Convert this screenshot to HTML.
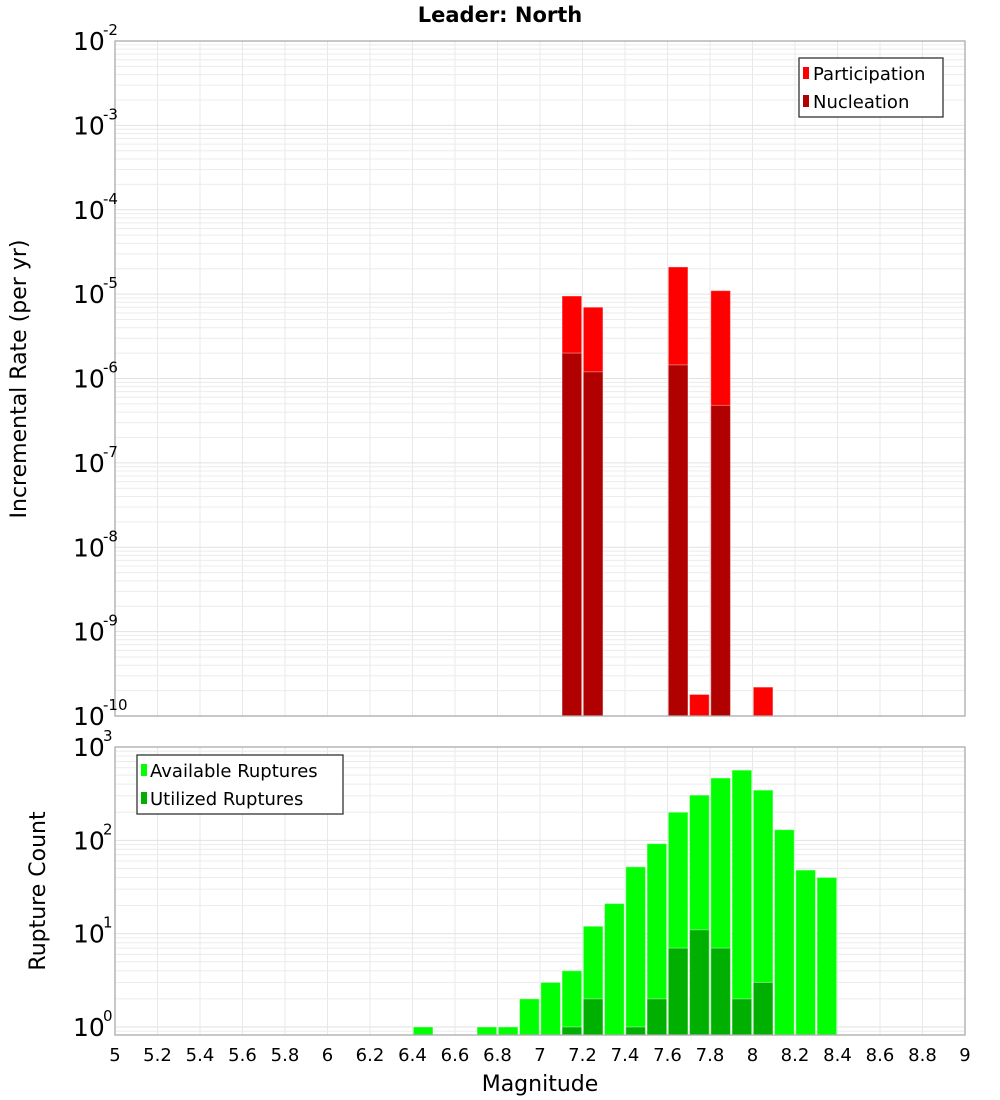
<!DOCTYPE html>
<html><head><meta charset="utf-8">
<style>
body{margin:0;background:#fff;}
svg{display:block;font-family:"DejaVu Sans","Liberation Sans",sans-serif;}
</style></head>
<body>
<svg id="c" width="1000" height="1100" viewBox="0 0 1000 1100" xmlns="http://www.w3.org/2000/svg">
<text x="500" y="22" text-anchor="middle" font-size="21" font-weight="bold">Leader: North</text>
<g id="top"></g>
<g id="bot"></g>
<text transform="translate(26,379) rotate(-90)" text-anchor="middle" font-size="22">Incremental Rate (per yr)</text>
<text transform="translate(45,891) rotate(-90)" text-anchor="middle" font-size="22">Rupture Count</text>
<text x="540" y="1091" text-anchor="middle" font-size="22">Magnitude</text>
<g>
<rect x="799" y="58" width="144" height="59" fill="#fff" stroke="#333" stroke-width="1.3"/>
<rect x="803" y="67" width="6" height="12" fill="#ff0000"/>
<text x="813" y="80" font-size="18">Participation</text>
<rect x="803" y="95" width="6" height="12" fill="#b00000"/>
<text x="813" y="108" font-size="18">Nucleation</text>
</g>
<g>
<rect x="137" y="755" width="206" height="59" fill="#fff" stroke="#333" stroke-width="1.3"/>
<rect x="141" y="764" width="6" height="12" fill="#00ff00"/>
<text x="150" y="777" font-size="18">Available Ruptures</text>
<rect x="141" y="792" width="6" height="12" fill="#00b000"/>
<text x="150" y="805" font-size="18">Utilized Ruptures</text>
</g>
</svg>
<script>
// Data
const rateMags = [7.15, 7.25, 7.65, 7.75, 7.85, 8.05];
const participation = [9.5e-6, 7e-6, 2.1e-5, 1.8e-10, 1.1e-5, 2.2e-10];
const nucleation = [2e-6, 1.2e-6, 1.45e-6, 0, 4.8e-7, 0];
const countMags = [6.45, 6.75, 6.85, 6.95, 7.05, 7.15, 7.25, 7.35, 7.45, 7.55, 7.65, 7.75, 7.85, 7.95, 8.05, 8.15, 8.25, 8.35];
const available = [1, 1, 1, 2, 3, 4, 12, 21, 52, 92, 200, 305, 465, 565, 345, 130, 48, 40];
const utilized = [0, 0, 0, 0, 0, 1, 2, 0, 1, 2, 7, 11, 7, 2, 3, 0, 0, 0];
const xTicks = ["5","5.2","5.4","5.6","5.8","6","6.2","6.4","6.6","6.8","7","7.2","7.4","7.6","7.8","8","8.2","8.4","8.6","8.8","9"];
const rateExps = [-2,-3,-4,-5,-6,-7,-8,-9,-10];
const countExps = [3,2,1,0];

const NS = "http://www.w3.org/2000/svg";
const X0 = 115, X1 = 965;
const x = m => X0 + (m - 5) / 4 * (X1 - X0);
const binW = (X1 - X0) / 40;
const T = {top:41, bot:716, lmax:-2, lmin:-10};
const B = {top:747, bot:1035, lmax:3.0, lmin:-0.086};
const yT = v => T.top + (T.lmax - Math.log10(v)) / (T.lmax - T.lmin) * (T.bot - T.top);
const yB = v => B.top + (B.lmax - Math.log10(v)) / (B.lmax - B.lmin) * (B.bot - B.top);
function el(tag, attrs, parent){const e=document.createElementNS(NS,tag);for(const k in attrs)e.setAttribute(k,attrs[k]);parent.appendChild(e);return e;}

function grid(g, P, yf, emin, emax){
  for(let i=0;i<=20;i++){const xx=x(5+i*0.2);
    const l=el('line',{x1:xx,x2:xx,y1:P.top,y2:P.bot,stroke:'#e8e8e8','stroke-width':1},g);
    
    }
  for(let e=emin;e<=emax;e++)for(let k=1;k<10;k++){const v=k*Math.pow(10,e);const yy=yf(v);
    if(yy<P.top-0.5||yy>P.bot+0.5)continue;
    const l=el('line',{x1:X0,x2:X1,y1:yy,y2:yy,stroke:k==1?'#e2e2e2':'#ececec','stroke-width':1},g);
    
    }
}
function frame(g,P){const r=el('rect',{x:X0,y:P.top,width:X1-X0,height:P.bot-P.top,fill:'none',stroke:'#aaa','stroke-width':1.3},g);
  
  }
function ylabels(g, exps, yf){
  exps.forEach(e=>{const yy=yf(Math.pow(10,e));
    const t=el('text',{x:73,y:yy+9,'font-size':25},g);
    
    
    t.textContent='10';
    const s=el('text',{x:103,y:yy-6,'font-size':15},g);
    
    
    s.textContent=String(e);});
}
function bar(g, m, v, yf, P, fill, name){
  if(!(v>0))return;
  const yy=Math.max(yf(v),P.top);
  const r=el('rect',{x:x(m)-binW/2+0.8,y:yy,width:binW-1.6,height:P.bot-yy,fill:fill,stroke:'#ffffff','stroke-opacity':0.4,'stroke-width':1},g);
  
  
}

const gt=document.getElementById('top'), gb=document.getElementById('bot');
grid(gt,T,yT,-10,-3); grid(gb,B,yB,-1,2);
rateMags.forEach((m,i)=>bar(gt,m,participation[i],yT,T,'#ff0000','bar-participation'));
rateMags.forEach((m,i)=>bar(gt,m,nucleation[i],yT,T,'#b00000','bar-nucleation'));
countMags.forEach((m,i)=>bar(gb,m,available[i],yB,B,'#00ff00','bar-available'));
countMags.forEach((m,i)=>bar(gb,m,utilized[i],yB,B,'#00b000','bar-utilized'));
frame(gt,T); frame(gb,B);
ylabels(gt,rateExps,yT); ylabels(gb,countExps,yB);
xTicks.forEach(s=>{const t=el('text',{x:x(parseFloat(s)),y:1061,'font-size':18,'text-anchor':'middle'},gb);
  
  
  t.textContent=s;});
</script>
</body></html>
